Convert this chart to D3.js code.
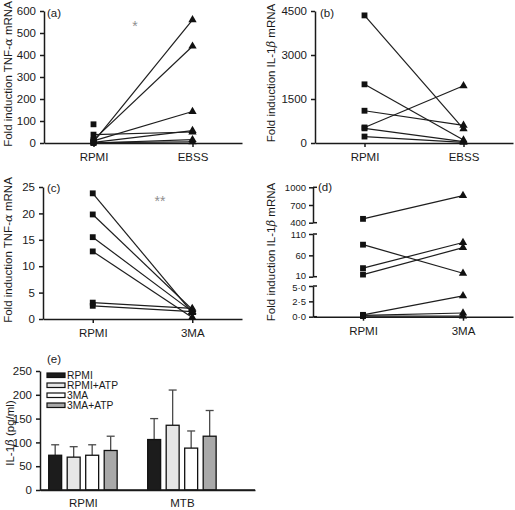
<!DOCTYPE html>
<html>
<head>
<meta charset="utf-8">
<script src="https://cdn.jsdelivr.net/npm/d3@7"></script>
<style>
  html, body { margin: 0; padding: 0; background: #fff; }
  svg { display: block; }
  text { font-family: "Liberation Sans", Arial, sans-serif; fill: #1a1a1a; }
</style>
</head>
<body>
<svg id="chart" width="515" height="510"></svg>
<script>
// ---------------- DATA ----------------
// Panel (a): TNF-α, RPMI vs EBSS
const catsA = ["RPMI", "EBSS"];
const rpmiA = [5, 14, 10, 38, 3, 0, 2, 85];
const ebssA = [560, 440, 143, 50, 56, 15, 5, null];
const ticksA = [0, 100, 200, 300, 400, 500, 600];

// Panel (b): IL-1β, RPMI vs EBSS
const catsB = ["RPMI", "EBSS"];
const rpmiB = [4350, 2000, 1100, 530, 500, 220];
const ebssB = [480, 100, 600, 1950, 50, 20];
const ticksB = [0, 1500, 3000, 4500];

// Panel (c): TNF-α, RPMI vs 3MA
const catsC = ["RPMI", "3MA"];
const rpmiC = [23.8, 19.8, 15.5, 12.8, 3.1, 2.5];
const mamC  = [1.2, 1.8, 1.4, 0.3, 2.0, 1.4];
const ticksC = [0, 5, 10, 15, 20, 25];

// Panel (d): IL-1β, RPMI vs 3MA (broken axis)
const catsD = ["RPMI", "3MA"];
const rpmiD = [465, 85, 30, 15, 0.3, 0.2, 0.1];
const mamD  = [860, 18, 90, 78, 3.4, 0.6, 0.1];
const segLow  = [0, 5],    ticksLow  = [0, 2.5, 5];
const segMid  = [10, 110], ticksMid  = [10, 60, 110];
const segHigh = [400, 1000], ticksHigh = [400, 700, 1000];

// Panel (e): IL-1β protein bars
const groupsE = ["RPMI", "MTB"];
const seriesE = ["RPMI", "RPMI+ATP", "3MA", "3MA+ATP"];
const meanRPMI = [73, 69, 73, 83];
const meanMTB  = [106, 136, 88, 113];
const errRPMI  = [22, 22, 22, 30];
const errMTB   = [44, 74, 36, 54];
const ticksE = [0, 50, 100, 150, 200, 250];
const colorsE = ["#1c1c1c", "#e6e6e6", "#ffffff", "#a9a9a9"];

// ---------------- DRAW ----------------
const svg = d3.select("#chart");
const FS = 11.5;
const INK = "#1a1a1a";
const fmtInt = d3.format("d");

function styleAxis(g) {
  g.selectAll("path.domain").attr("stroke", INK).attr("stroke-width", 1.5);
  g.selectAll(".tick line").attr("stroke", INK).attr("stroke-width", 1.5);
  g.selectAll(".tick text").attr("font-size", FS).attr("fill", INK)
    .style("font-family", '"Liberation Sans", Arial, sans-serif');
}

function yTitle(x, y, parts, fs) {
  const t = svg.append("text")
    .attr("transform", `translate(${x},${y}) rotate(-90)`)
    .attr("text-anchor", "middle").attr("font-size", fs || FS);
  parts.forEach(p => {
    const ts = t.append("tspan").text(p[0]);
    if (p[1]) ts.attr("font-style", "italic").style("font-family", '"DejaVu Serif", serif');
  });
}

function label(x, y, s) {
  svg.append("text").attr("x", x).attr("y", y).attr("font-size", FS).text(s);
}

function star(x, y, s) {
  svg.append("text").attr("x", x).attr("y", y).attr("text-anchor", "middle")
    .attr("font-size", 14).style("fill", "#8f8f8f").text(s);
}

function pairedPanel(opts) {
  const x = d3.scalePoint().domain(opts.cats).range([opts.x0, opts.x1]).padding(0.5);
  const y = opts.y;
  const gx = svg.append("g").attr("transform", `translate(0,${opts.yBase})`)
    .call(d3.axisBottom(x).tickSize(4).tickSizeOuter(0).tickPadding(6));
  styleAxis(gx);
  const pairs = opts.left.map((v, i) => [v, opts.right[i]]);
  const g = svg.append("g");
  pairs.forEach(p => {
    if (p[0] != null && p[1] != null) {
      g.append("line")
        .attr("x1", x(opts.cats[0])).attr("y1", y(p[0]))
        .attr("x2", x(opts.cats[1])).attr("y2", y(p[1]))
        .attr("stroke", "#1e1e1e").attr("stroke-width", 1.2);
    }
  });
  const sq = d3.symbol().type(d3.symbolSquare).size(34);
  const tri = d3.symbol().type(d3.symbolTriangle).size(30);
  pairs.forEach(p => {
    if (p[0] != null) g.append("path").attr("d", sq)
      .attr("transform", `translate(${x(opts.cats[0])},${y(p[0])})`).attr("fill", "#111");
    if (p[1] != null) g.append("path").attr("d", tri)
      .attr("transform", `translate(${x(opts.cats[1])},${y(p[1])})`).attr("fill", "#111");
  });
  return x;
}

// ---- Panel (a)
const yA = d3.scaleLinear().domain([0, 600]).range([143, 11]);
svg.append("g").attr("transform", "translate(44,0)")
  .call(d3.axisLeft(yA).tickValues(ticksA).tickFormat(fmtInt).tickSize(4).tickSizeOuter(0).tickPadding(4))
  .call(styleAxis);
pairedPanel({cats: catsA, left: rpmiA, right: ebssA, x0: 44, x1: 242, y: yA, yBase: 143});
yTitle(12, 74, [["Fold induction TNF-"], ["α", true], [" mRNA"]]);
label(47, 17, "(a)");
star(135, 31, "*");

// ---- Panel (b)
const yB = d3.scaleLinear().domain([0, 4500]).range([143, 11]);
svg.append("g").attr("transform", "translate(315,0)")
  .call(d3.axisLeft(yB).tickValues(ticksB).tickFormat(fmtInt).tickSize(4).tickSizeOuter(0).tickPadding(4))
  .call(styleAxis);
pairedPanel({cats: catsB, left: rpmiB, right: ebssB, x0: 315, x1: 513, y: yB, yBase: 143});
yTitle(275, 73, [["Fold induction IL-1"], ["β", true], [" mRNA"]]);
label(320, 17, "(b)");

// ---- Panel (c)
const yC = d3.scaleLinear().domain([0, 25]).range([319, 187]);
svg.append("g").attr("transform", "translate(43,0)")
  .call(d3.axisLeft(yC).tickValues(ticksC).tickFormat(fmtInt).tickSize(4).tickSizeOuter(0).tickPadding(4))
  .call(styleAxis);
pairedPanel({cats: catsC, left: rpmiC, right: mamC, x0: 43, x1: 242, y: yC, yBase: 319});
yTitle(12, 250, [["Fold induction TNF-"], ["α", true], [" mRNA"]]);
label(47, 192, "(c)");
star(160, 206, "**");

// ---- Panel (d): broken axis
const yLow  = d3.scaleLinear().domain(segLow).range([316.7, 286]);
const yMid  = d3.scaleLinear().domain(segMid).range([276.7, 234]);
const yHigh = d3.scaleLinear().domain(segHigh).range([222.7, 187.3]);
const yD = v => v <= segLow[1] ? yLow(v) : (v < segHigh[0] ? yMid(v) : yHigh(v));
const fmtLow = v => d3.format(".1f")(v).replace(".", "\u00B7");
[[yLow, ticksLow, fmtLow, 1.6, 0], [yMid, ticksMid, fmtInt, 0, -1.6], [yHigh, ticksHigh, fmtInt, 0, 0]]
  .forEach(([sc, tv, f, topShift, botShift]) => {
    const ga = svg.append("g").attr("transform", "translate(313,0)")
      .call(d3.axisLeft(sc).tickValues(tv).tickFormat(f).tickSize(4).tickSizeOuter(0).tickPadding(3))
      .call(styleAxis);
    ga.selectAll(".tick text").attr("font-size", 9.5)
      .attr("y", d => d === sc.domain()[1] ? topShift : (d === sc.domain()[0] ? botShift : 0));
    sc.range().forEach(yy => {
      ga.append("line").attr("x1", 0).attr("x2", 4).attr("y1", yy).attr("y2", yy)
        .attr("stroke", INK).attr("stroke-width", 1.5);
    });
  });
pairedPanel({cats: catsD, left: rpmiD, right: mamD, x0: 313, x1: 513, y: yD, yBase: 316.7});
yTitle(275, 252, [["Fold induction IL-1"], ["β", true], [" mRNA"]]);
label(318, 191, "(d)");

// ---- Panel (e): bars
const yE = d3.scaleLinear().domain([0, 250]).range([490, 371]);
const xE = d3.scalePoint().domain(groupsE).range([40, 255]).padding(0.586).align(0.37);
const xS = d3.scaleBand().domain(seriesE).range([-37, 37]).paddingInner(0.3).paddingOuter(0.15);
svg.append("g").attr("transform", "translate(40,0)")
  .call(d3.axisLeft(yE).tickValues(ticksE).tickFormat(fmtInt).tickSize(4).tickSizeOuter(0).tickPadding(4))
  .call(styleAxis);
const gxe = svg.append("g").attr("transform", "translate(0,490)")
  .call(d3.axisBottom(xE).tickSize(0).tickSizeOuter(0).tickPadding(9));
styleAxis(gxe);

const barData = [];
groupsE.forEach((grp, gi) => {
  const means = gi === 0 ? meanRPMI : meanMTB;
  const errs = gi === 0 ? errRPMI : errMTB;
  seriesE.forEach((s, si) => barData.push({grp, s, si, m: means[si], e: errs[si]}));
});
const gb = svg.append("g");
barData.forEach(d => {
  const cx = xE(d.grp) + xS(d.s) + xS.bandwidth() / 2;
  gb.append("line").attr("x1", cx).attr("x2", cx)
    .attr("y1", yE(d.m)).attr("y2", yE(d.m + d.e))
    .attr("stroke", "#4a4a4a").attr("stroke-width", 1.3);
  gb.append("line").attr("x1", cx - 4).attr("x2", cx + 4)
    .attr("y1", yE(d.m + d.e)).attr("y2", yE(d.m + d.e))
    .attr("stroke", "#4a4a4a").attr("stroke-width", 1.3);
  gb.append("rect")
    .attr("x", xE(d.grp) + xS(d.s)).attr("width", xS.bandwidth())
    .attr("y", yE(d.m)).attr("height", yE(0) - yE(d.m))
    .attr("fill", colorsE[d.si]).attr("stroke", "#111").attr("stroke-width", 1.3);
});
svg.append("line").attr("x1", 40).attr("x2", 255).attr("y1", 490).attr("y2", 490)
  .attr("stroke", INK).attr("stroke-width", 1.5);

// legend
const lg = svg.append("g");
seriesE.forEach((s, i) => {
  const yy = 373 + i * 10;
  lg.append("rect").attr("x", 47).attr("y", yy).attr("width", 18).attr("height", 4.5)
    .attr("fill", colorsE[i]).attr("stroke", "#111").attr("stroke-width", 1.2);
  lg.append("text").attr("x", 67).attr("y", yy + 6).attr("font-size", 10.3).text(s);
});
label(47, 363, "(e)");
yTitle(14, 433, [["IL-1"], ["β", true], [" (pg/ml)"]]);
</script>
</body>
</html>
